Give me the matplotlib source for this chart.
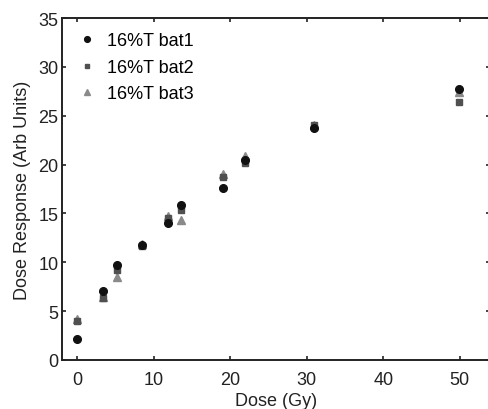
import matplotlib
matplotlib.use("Agg")
import matplotlib.pyplot as plt

plt.rcParams['font.family'] = ['Liberation Sans', 'DejaVu Sans']

dose1 = [0, 3.3, 5.2, 8.4, 11.9, 13.6, 19.1, 21.9, 30.9, 49.9]
resp1 = [2.2, 7.1, 9.7, 11.8, 14.0, 15.9, 17.6, 20.5, 23.7, 27.7]
dose2 = [0, 3.3, 5.2, 8.4, 11.9, 13.6, 19.1, 21.9, 30.9, 49.9]
resp2 = [4.0, 6.3, 9.2, 11.7, 14.5, 15.3, 18.7, 20.2, 24.1, 26.4]
dose3 = [0, 3.3, 5.2, 8.4, 11.9, 13.6, 19.1, 21.9, 30.9, 49.9]
resp3 = [4.2, 6.4, 8.5, 11.9, 14.7, 14.3, 19.0, 20.9, 24.0, 27.4]
labels = ['16%T bat1', '16%T bat2', '16%T bat3']
xticks = [0, 10, 20, 30, 40, 50]
yticks = [0, 5, 10, 15, 20, 25, 30, 35]

fig = plt.figure(figsize=(4.88, 4.10), dpi=100)
ax = fig.add_axes([62/488, 49/410, 428.4/488, 342/410])

ax.plot(dose3, resp3, linestyle='none', marker='^', ms=5.5, color='#8a8a8a', label=labels[2], zorder=3)
ax.plot(dose2, resp2, linestyle='none', marker='s', ms=4.5, color='#505050', label=labels[1], zorder=4)
ax.plot(dose1, resp1, linestyle='none', marker='o', ms=5.5, color='#111111', label=labels[0], zorder=5)

handles, labs = ax.get_legend_handles_labels()
order = [2, 1, 0]
ax.legend([handles[i] for i in order], [labs[i] for i in order], loc='upper left',
          frameon=False, fontsize=13, handletextpad=0.55, borderaxespad=0.4,
          labelspacing=0.52, handlelength=1.15, markerscale=0.75,
          bbox_to_anchor=(0.0, 1.0))

ax.set_xlim(-2, 54)
ax.set_ylim(0, 35)
ax.set_xticks(xticks)
ax.set_yticks(yticks)
ax.tick_params(axis='both', direction='in', length=3, width=1.2, top=True, right=True,
               labelsize=13, colors='#222222')
ax.tick_params(axis='x', pad=8)
ax.tick_params(axis='y', pad=2.5)
for s in ax.spines.values():
    s.set_linewidth(1.4)
    s.set_color('#222222')
ax.set_xlabel('Dose (Gy)', fontsize=13, labelpad=2.5, color='#222222')
ax.set_ylabel('Dose Response (Arb Units)', fontsize=13, labelpad=5, color='#222222')

fig.savefig('out.png', dpi=100)
